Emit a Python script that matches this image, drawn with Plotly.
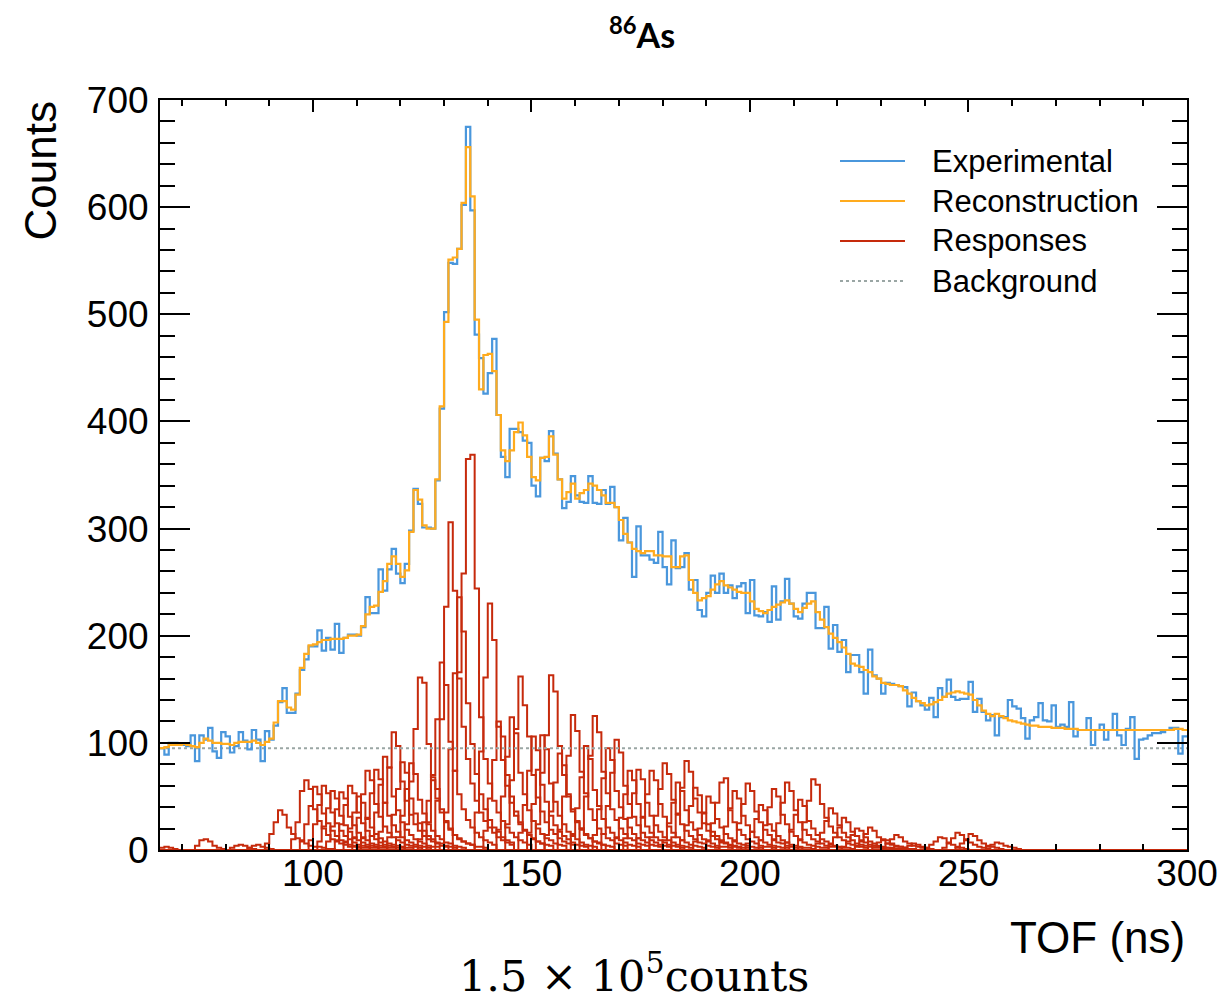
import numpy as np
import plotly.graph_objects as go

# ---------------- data (1 ns bins, 65 .. 300 ns) ----------------
bin_start = 65
bin_stop = 300
background_level = 95

experimental = [
    95, 89, 100, 100, 99, 98, 97, 107, 83, 107,          # 65-74
    103, 114, 92, 86, 110, 106, 91, 97, 110, 102,        # 75-84
    94, 112, 103, 83, 111, 103, 116, 138, 151, 128,      # 85-94
    128, 146, 168, 178, 190, 190, 205, 186, 198, 187,    # 95-104
    211, 184, 198, 201, 201, 200, 208, 236, 221, 221,    # 105-114
    262, 242, 262, 281, 258, 249, 267, 298, 337, 323,    # 115-124
    301, 301, 300, 345, 412, 502, 548, 547, 561, 602,    # 125-134
    675, 597, 481, 459, 426, 445, 477, 406, 367, 348,    # 135-144
    393, 393, 390, 382, 380, 340, 330, 366, 363, 391,    # 145-154
    370, 346, 319, 325, 349, 331, 325, 324, 349, 324,    # 155-164
    323, 336, 323, 339, 320, 289, 310, 287, 255, 302,    # 165-174
    275, 275, 271, 268, 297, 264, 248, 289, 263, 264,    # 175-184
    277, 243, 252, 224, 218, 240, 256, 240, 258, 240,    # 185-194
    247, 235, 246, 249, 221, 252, 219, 218, 222, 213,    # 195-204
    246, 215, 232, 253, 230, 218, 216, 230, 240, 240,    # 205-214
    207, 207, 227, 188, 210, 185, 196, 166, 182, 182,    # 215-224
    166, 146, 187, 163, 160, 146, 156, 155, 154, 153,    # 225-234
    152, 134, 147, 139, 135, 131, 142, 124, 151, 143,    # 235-244
    159, 143, 140, 141, 141, 157, 129, 141, 129, 121,    # 245-254
    126, 107, 124, 124, 140, 134, 132, 123, 104, 121,    # 255-264
    124, 137, 121, 120, 135, 115, 117, 115, 138, 106,    # 265-274
    112, 112, 123, 98, 112, 117, 103, 112, 127, 107,     # 275-284
    98, 113, 124, 85, 103, 104, 107, 109, 109, 110,      # 285-294
    112, 114, 114, 90, 106,                              # 295-299
]

reconstruction = [
    95, 96, 98, 98, 98, 99, 98, 97, 96, 100,             # 65-74
    104, 102, 100, 100, 99, 99, 98, 100, 101, 101,       # 75-84
    101, 102, 100, 98, 101, 104, 119, 139, 139, 133,     # 85-94
    131, 145, 170, 183, 191, 192, 194, 196, 196, 197,    # 95-104
    197, 197, 198, 200, 200, 201, 209, 220, 227, 228,    # 105-114
    241, 251, 267, 274, 267, 255, 261, 297, 336, 327,    # 115-124
    303, 300, 300, 346, 414, 493, 551, 553, 561, 604,    # 125-134
    656, 610, 495, 430, 462, 463, 447, 406, 373, 363,    # 135-144
    373, 390, 399, 387, 367, 348, 345, 366, 367, 386,    # 145-154
    369, 346, 328, 334, 342, 328, 333, 336, 342, 340,    # 155-164
    336, 331, 324, 324, 320, 308, 295, 287, 281, 279,    # 165-174
    277, 279, 279, 275, 275, 274, 274, 264, 264, 274,    # 175-184
    275, 252, 240, 233, 235, 237, 243, 248, 251, 247,    # 185-194
    245, 243, 241, 240, 240, 232, 225, 223, 221, 224,    # 195-204
    227, 229, 231, 233, 230, 225, 222, 226, 230, 232,    # 205-214
    222, 215, 208, 202, 198, 194, 189, 183, 174, 172,    # 215-224
    171, 168, 166, 162, 160, 156, 155, 154, 154, 153,    # 225-234
    149, 146, 142, 139, 137, 135, 136, 138, 140, 143,    # 235-244
    146, 147, 148, 147, 146, 145, 140, 135, 130, 127,    # 245-254
    125, 127, 125, 123, 121, 120, 119, 118, 117, 116,    # 255-264
    116, 115, 115, 115, 114, 114, 114, 113, 113, 113,    # 265-274
    112, 112, 112, 112, 112, 112, 112, 112, 112, 112,    # 275-284
    112, 112, 112, 112, 112, 112, 112, 112, 112, 112,    # 285-294
    112, 112, 113, 113, 112,                             # 295-299
]

# individual response histograms: (first bin in ns, bin contents)
responses = [
    (65, [2, 3, 2, 1]),
    (73, [4, 9, 10, 8, 4, 2, 1]),
    (81, [2, 4, 5, 4, 2, 1]),
    (85, [2, 4, 5, 3, 2, 1]),
    (89, [6, 15, 26, 37, 33, 21, 15, 11, 8, 6, 4, 3, 3, 2, 1, 1]),
    (95, [10, 26, 55, 65, 57, 38, 27, 20, 14, 10, 8, 6, 5, 3, 3, 2]),
    (97, [9, 24, 41, 59, 52, 34, 25, 18, 13, 9, 7, 5, 4, 3, 2, 2]),
    (99, [9, 24, 42, 60, 53, 35, 25, 18, 13, 10, 7, 5, 4, 3, 2, 2]),
    (101, [8, 22, 39, 55, 48, 32, 23, 17, 12, 9, 7, 5, 4, 3, 2, 2]),
    (103, [8, 22, 38, 54, 48, 31, 23, 16, 12, 9, 6, 5, 4, 3, 2, 2]),
    (105, [9, 24, 42, 60, 53, 35, 25, 18, 13, 10, 7, 5, 4, 3, 2, 2]),
    (107, [8, 20, 35, 50, 44, 29, 21, 15, 11, 8, 6, 5, 4, 3, 2, 2]),
    (109, [11, 30, 52, 74, 65, 43, 31, 22, 16, 12, 9, 7, 5, 4, 3, 2]),
    (111, [11, 30, 53, 75, 66, 44, 32, 23, 17, 12, 9, 7, 5, 4, 3, 2]),
    (113, [13, 35, 61, 87, 77, 50, 37, 26, 19, 14, 10, 8, 6, 4, 3, 3]),
    (115, [17, 44, 77, 110, 97, 64, 46, 33, 24, 18, 13, 10, 8, 6, 4, 3]),
    (117, [12, 33, 57, 82, 72, 48, 34, 25, 18, 13, 10, 7, 6, 4, 3, 2]),
    (119, [12, 32, 57, 81, 71, 47, 34, 24, 18, 13, 10, 7, 6, 4, 3, 2]),
    (121, [24, 64, 113, 161, 156, 99, 68, 48, 35, 26, 19, 14, 11, 8, 6, 5]),
    (124, [10, 26, 46, 65, 57, 38, 27, 20, 14, 10, 8, 6, 5, 3, 3, 2]),
    (126, [26, 70, 122, 175, 154, 101, 74, 52, 38, 28, 21, 16, 12, 9, 7, 5]),
    (128, [46, 122, 227, 306, 242, 160, 115, 85, 62, 46, 35, 27, 21, 16, 12, 9, 7, 5]),
    (130, [35, 94, 165, 236, 204, 137, 99, 71, 52, 38, 28, 21, 17, 12, 9, 7]),
    (132, [74, 166, 258, 365, 369, 244, 124, 85, 62, 46, 35, 27, 21, 16, 12, 9, 7, 5]),
    (137, [35, 92, 161, 230, 196, 115, 84, 60, 44, 32, 24, 18, 14, 10, 8, 6]),
    (139, [18, 48, 84, 120, 106, 70, 50, 36, 26, 19, 14, 11, 8, 6, 5, 4]),
    (142, [19, 50, 87, 124, 109, 72, 52, 37, 27, 20, 15, 11, 9, 6, 5, 4]),
    (144, [24, 65, 113, 162, 135, 106, 70, 49, 36, 26, 19, 15, 11, 8, 6, 5]),
    (147, [16, 42, 74, 106, 93, 61, 45, 32, 23, 17, 13, 10, 7, 5, 4, 3]),
    (149, [16, 43, 75, 107, 94, 62, 45, 32, 24, 17, 13, 10, 7, 5, 4, 3]),
    (151, [24, 72, 107, 163, 148, 97, 70, 50, 36, 26, 20, 15, 11, 8, 7, 5]),
    (153, [14, 36, 63, 90, 79, 52, 38, 27, 20, 14, 11, 8, 6, 5, 4, 3]),
    (156, [19, 50, 88, 126, 111, 73, 53, 38, 28, 20, 15, 11, 9, 6, 5, 4]),
    (159, [15, 39, 68, 97, 85, 56, 41, 29, 21, 16, 12, 9, 7, 5, 4, 3]),
    (161, [19, 50, 88, 125, 110, 73, 53, 38, 28, 20, 15, 11, 9, 6, 5, 4]),
    (164, [14, 38, 67, 95, 84, 55, 40, 29, 21, 15, 11, 9, 7, 5, 4, 3]),
    (166, [15, 41, 72, 103, 91, 60, 43, 31, 23, 16, 12, 9, 7, 5, 4, 3]),
    (169, [11, 30, 52, 74, 65, 43, 31, 22, 16, 12, 9, 7, 5, 4, 3, 2]),
    (171, [11, 30, 53, 75, 66, 44, 32, 23, 17, 12, 9, 7, 5, 4, 3, 2]),
    (174, [11, 30, 52, 74, 65, 43, 31, 22, 16, 12, 9, 7, 5, 4, 3, 2]),
    (177, [12, 32, 57, 81, 71, 47, 34, 24, 18, 13, 10, 7, 6, 4, 3, 2]),
    (180, [9, 25, 44, 63, 55, 37, 26, 19, 14, 10, 8, 6, 4, 3, 3, 2]),
    (182, [12, 33, 58, 83, 73, 48, 35, 25, 18, 13, 10, 7, 6, 4, 3, 2]),
    (184, [9, 23, 41, 58, 51, 34, 24, 17, 13, 9, 7, 5, 4, 3, 2, 2]),
    (187, [8, 20, 35, 50, 44, 29, 21, 15, 11, 8, 6, 5, 4, 3, 2, 2]),
    (190, [9, 25, 44, 63, 67, 37, 26, 19, 14, 10, 8, 6, 4, 3, 3, 2]),
    (193, [8, 22, 39, 55, 48, 32, 23, 17, 12, 9, 7, 5, 4, 3, 2, 2]),
    (196, [9, 25, 43, 62, 55, 36, 26, 19, 14, 10, 7, 6, 4, 3, 2, 2]),
    (199, [6, 17, 29, 42, 37, 24, 18, 13, 9, 7, 5, 4, 3, 2, 2, 1]),
    (202, [9, 23, 40, 57, 50, 33, 24, 17, 13, 9, 7, 5, 4, 3, 2, 2]),
    (205, [9, 25, 44, 63, 55, 37, 26, 19, 14, 10, 8, 6, 4, 3, 3, 2]),
    (208, [7, 19, 33, 47, 41, 27, 20, 14, 10, 8, 6, 4, 3, 2, 2, 1]),
    (211, [10, 26, 46, 66, 61, 43, 30, 22, 16, 12, 9, 6, 5, 4, 3, 2]),
    (215, [6, 16, 27, 39, 34, 23, 16, 12, 9, 6, 5, 4, 3, 2, 2, 1]),
    (218, [5, 12, 21, 30, 26, 17, 13, 9, 7, 5, 4, 3, 2, 2, 1, 1]),
    (221, [3, 8, 14, 20, 18, 12, 8, 6, 4, 3, 2, 2, 1, 1]),
    (224, [3, 8, 15, 21, 18, 12, 9, 6, 5, 3, 3, 2, 1, 1]),
    (228, [4, 7, 10, 9, 6, 4, 3, 2, 1]),
    (230, [2, 6, 10, 14, 12, 8, 6, 4, 3, 2, 1]),
    (235, [2, 4, 6, 5, 3, 2, 1]),
    (240, [2, 5, 8, 12, 11, 7, 5, 3, 2, 1]),
    (244, [2, 6, 11, 16, 14, 9, 7, 5, 3, 2, 1]),
    (247, [2, 6, 10, 15, 13, 9, 6, 4, 3, 2, 1]),
    (254, [3, 5, 7, 6, 4, 3, 2, 1]),
]

legend_labels = ["Experimental", "Reconstruction", "Responses", "Background"]
x_tick_values = [100, 150, 200, 250, 300]
y_tick_values = [0, 100, 200, 300, 400, 500, 600, 700]

# ---------------- helpers ----------------
edges = np.arange(bin_start, bin_stop + 1)
nbins = len(edges) - 1
assert len(experimental) == nbins, len(experimental)
assert len(reconstruction) == nbins, len(reconstruction)


def step_y(vals):
    vals = list(vals)
    return vals + [vals[-1]]


C_BLUE = "#4a97dc"
C_ORANGE = "#ffab1e"
C_RED = "#c62a0c"
C_BG = "#9aa6a4"

fig = go.Figure()

for start, vals in responses:
    full = np.zeros(nbins)
    i0 = start - bin_start
    for k, v in enumerate(vals):
        if 0 <= i0 + k < nbins:
            full[i0 + k] = v
    fig.add_trace(go.Scatter(x=edges, y=step_y(full), mode="lines",
                             line=dict(color=C_RED, width=2, shape="hv"),
                             showlegend=False, hoverinfo="skip"))

fig.add_trace(go.Scatter(x=[bin_start, bin_stop], y=[background_level, background_level],
                         mode="lines", line=dict(color=C_BG, width=2, dash="dot"),
                         showlegend=False))
fig.add_trace(go.Scatter(x=edges, y=step_y(experimental), mode="lines",
                         line=dict(color=C_BLUE, width=2.2, shape="hv"), showlegend=False))
fig.add_trace(go.Scatter(x=edges, y=step_y(reconstruction), mode="lines",
                         line=dict(color=C_ORANGE, width=2.2, shape="hv"), showlegend=False))

# ---------------- layout ----------------
L, R, T, B = 160, 37, 100, 152
W, H = 1224, 1002
pw, ph = W - L - R, H - T - B


def px(x):
    return (x - L) / pw


def py(y):
    return (H - B - y) / ph


TICKFONT = dict(family="Liberation Sans, Arial, sans-serif", size=37, color="black")

fig.update_layout(
    width=W, height=H, autosize=False,
    margin=dict(l=L, r=R, t=T, b=B, autoexpand=False),
    paper_bgcolor="white", plot_bgcolor="white",
    showlegend=False,
    xaxis=dict(range=[bin_start, bin_stop], showgrid=False, zeroline=False, automargin=False,
               showline=True, linecolor="black", linewidth=2, mirror="ticks",
               ticks="inside", ticklen=12, tickwidth=2, tickcolor="black",
               tickvals=x_tick_values, tickfont=TICKFONT, ticklabelstandoff=-10,
               minor=dict(dtick=10, tick0=0, ticks="inside", ticklen=6, tickwidth=2,
                          tickcolor="black", showgrid=False)),
    yaxis=dict(range=[0, 700], showgrid=False, zeroline=False, automargin=False,
               showline=True, linecolor="black", linewidth=2, mirror="ticks",
               ticks="inside", ticklen=30, tickwidth=2, tickcolor="black",
               tickvals=y_tick_values, tickfont=TICKFONT, ticklabelstandoff=2,
               minor=dict(dtick=20, tick0=0, ticks="inside", ticklen=15, tickwidth=2,
                          tickcolor="black", showgrid=False)),
)

annotations = [
    dict(text="<b><sup>86</sup>As</b>", x=px(642), y=py(33), xref="paper", yref="paper",
         xanchor="center", yanchor="middle", showarrow=False,
         font=dict(family="Lato, Open Sans, sans-serif", size=34, color="black")),
    dict(text="Counts", x=px(40), y=1.0, xref="paper", yref="paper", textangle=-90,
         xanchor="center", yanchor="top", showarrow=False,
         font=dict(family="Liberation Sans, Arial, sans-serif", size=44, color="black")),
    dict(text="TOF (ns)", x=px(1187), y=py(937), xref="paper", yref="paper",
         xanchor="right", yanchor="middle", showarrow=False,
         font=dict(family="Liberation Sans, Arial, sans-serif", size=44, color="black")),
    dict(text="1.5 × 10<sup>5</sup>counts", x=px(634), y=py(1002), xref="paper", yref="paper",
         xanchor="center", yanchor="bottom", showarrow=False, borderpad=0,
         font=dict(family="DejaVu Serif, serif", size=43, color="black")),
]

legend_colors = [C_BLUE, C_ORANGE, C_RED, C_BG]
legend_dash = ["solid", "solid", "solid", "dot"]
legend_y = [161, 201, 241, 281]
shapes = []
for lab, col, dsh, yy in zip(legend_labels, legend_colors, legend_dash, legend_y):
    shapes.append(dict(type="line", xref="paper", yref="paper",
                       x0=px(840), x1=px(905), y0=py(yy), y1=py(yy),
                       line=dict(color=col, width=2, dash=dsh)))
    annotations.append(dict(text=lab, x=px(930), y=py(yy), xref="paper", yref="paper",
                            xanchor="left", yanchor="middle", showarrow=False,
                            font=dict(family="Liberation Sans, Arial, sans-serif",
                                      size=31, color="black")))

fig.update_layout(annotations=annotations, shapes=shapes)

fig.write_html("out.html")
